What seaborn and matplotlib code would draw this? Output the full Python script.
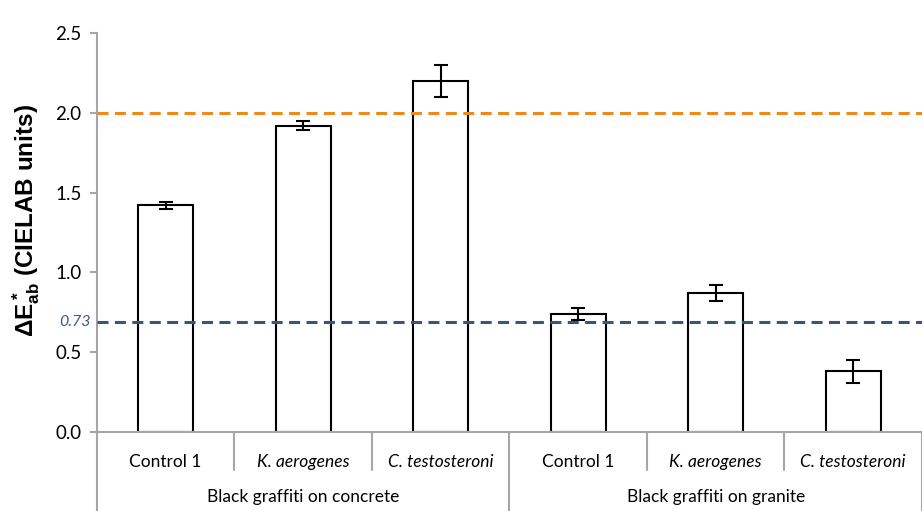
import pandas as pd
import matplotlib
matplotlib.use('Agg')
import matplotlib.pyplot as plt
import seaborn as sns

# values
groups = ['Black graffiti on concrete', 'Black graffiti on granite']
treatments = ['Control 1', 'K. aerogenes', 'C. testosteroni']
delta_e = [1.42, 1.92, 2.20, 0.74, 0.87, 0.38]
err = [0.02, 0.03, 0.10, 0.04, 0.05, 0.07]
threshold_hi = 2.0
threshold_lo = 0.69
threshold_lo_label = '0.73'
yticks = [0.0, 0.5, 1.0, 1.5, 2.0, 2.5]

data = pd.DataFrame({
    'group': [g for g in groups for _ in treatments],
    'treatment': treatments * len(groups),
    'dE': delta_e,
    'err': err,
})
data['key'] = data['group'] + '|' + data['treatment']

sns.set_style('white')
plt.rcParams['font.family'] = ['Lato', 'DejaVu Sans']
plt.rcParams['mathtext.fontset'] = 'custom'
plt.rcParams['mathtext.bf'] = 'Liberation Sans:bold'
plt.rcParams['mathtext.rm'] = 'Liberation Sans:bold'
plt.rcParams['text.color'] = 'black'
plt.rcParams['ytick.labelcolor'] = 'black'

fig = plt.figure(figsize=(9.22, 5.11), dpi=100)
ax = fig.add_axes([0.105, 0.1546, 0.895, 0.7808])

sns.barplot(data=data, x='key', y='dE', color='white', edgecolor='black',
            linewidth=1.5, width=0.4, errorbar=None, ax=ax)
ax.errorbar(range(len(data)), data['dE'], yerr=data['err'], fmt='none',
            ecolor='black', elinewidth=1.5, capsize=5, capthick=1.5, zorder=4)

ax.axhline(threshold_hi, color='#EE8A1C', lw=2.2, dashes=(3.6, 2.1), zorder=3)
ax.axhline(threshold_lo, color='#3A5578', lw=2.2, dashes=(3.6, 2.1), zorder=3)
ax.text(-0.027, threshold_lo, threshold_lo_label, transform=ax.get_yaxis_transform(),
        ha='center', va='center', fontsize=11.5, style='italic', color='#3A5A8C')

ax.set_ylim(0, 2.5)
ax.set_xlim(-0.5, 5.5)
ax.set_yticks(yticks)
ax.set_yticklabels([f'{t:.1f}' for t in yticks], fontsize=13.5)
ax.set_xticks([])
ax.set_xlabel('')
ax.set_ylabel(r'$\mathbf{\Delta E^*_{ab}}$ (CIELAB units)', fontsize=17.5, fontweight='bold',
              family='Liberation Sans', color='black')
ax.yaxis.set_label_coords(-0.066, 0.53)

for s in ['top', 'right']:
    ax.spines[s].set_visible(False)
gray = '#A6A6A6'
ax.spines['left'].set_color(gray)
ax.spines['left'].set_linewidth(1.5)
ax.spines['left'].set_bounds(0, 2.5)
ax.spines['bottom'].set_color(gray)
ax.spines['bottom'].set_linewidth(1.5)
ax.tick_params(axis='y', left=True, length=5, width=1.5, color=gray, pad=6)

# multi-level category axis
tr = ax.get_xaxis_transform()
ax.plot([-0.5, -0.5], [0, -0.2], transform=tr, color=gray, lw=1.5, clip_on=False)
for i, row in data.iterrows():
    style = 'normal' if row['treatment'].startswith('Control') else 'italic'
    ax.text(i, -0.075, row['treatment'], transform=tr, ha='center', va='center',
            fontsize=12.5, style=style)
    edge = i + 0.5
    if (i + 1) % len(treatments) == 0:
        ax.plot([edge, edge], [0, -0.2], transform=tr, color=gray, lw=1.5, clip_on=False)
    else:
        ax.plot([edge, edge], [0, -0.095], transform=tr, color=gray, lw=1.5, clip_on=False)
for j, g in enumerate(groups):
    ax.text(j * len(treatments) + 1, -0.163, g, transform=tr, ha='center', va='center',
            fontsize=12.5)
ax.plot([-0.52, -0.5], [0, 0], transform=tr, color=gray, lw=1.5, clip_on=False)

fig.savefig('out.png', dpi=100)
